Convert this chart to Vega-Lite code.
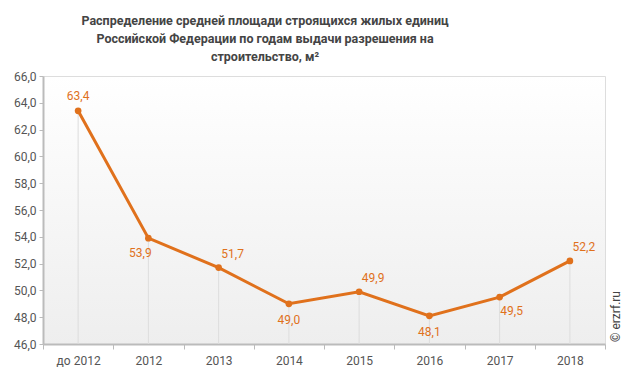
{
  "$schema": "https://vega.github.io/schema/vega-lite/v6.json",
  "width": 562,
  "height": 268,
  "autosize": {"type": "none"},
  "padding": {"left": 43, "top": 76, "right": 25, "bottom": 38},
  "background": "#ffffff",
  "title": {
    "text": ["Распределение средней площади строящихся  жилых единиц", "Российской  Федерации по годам выдачи разрешения на", "строительство,  м²"],
    "fontSize": 12.5,
    "fontWeight": "bold",
    "font": "Roboto",
    "color": "#444444",
    "anchor": "middle",
    "dx": -59,
    "lineHeight": 18,
    "offset": 7
  },
  "data": {
    "values": [
      {"year": "до 2012", "value": 63.4},
      {"year": "2012", "value": 53.9},
      {"year": "2013", "value": 51.7},
      {"year": "2014", "value": 49.0},
      {"year": "2015", "value": 49.9},
      {"year": "2016", "value": 48.1},
      {"year": "2017", "value": 49.5},
      {"year": "2018", "value": 52.2}
    ]
  },
  "encoding": {
    "x": {
      "field": "year",
      "type": "ordinal",
      "sort": null,
      "scale": {"paddingInner": 0, "paddingOuter": 0},
      "axis": {
        "title": null,
        "labelAngle": 0,
        "labelFont": "Roboto",
        "labelFontSize": 12,
        "labelColor": "#555555",
        "labelPadding": 6,
        "domainColor": "#bbbbbb",
        "domainWidth": 2,
        "tickColor": "#bbbbbb",
        "tickBand": "extent",
        "tickSize": 5,
        "grid": false
      }
    }
  },
  "layer": [
    {
      "mark": {"type": "rule", "color": "#dddddd", "strokeWidth": 1},
      "encoding": {
        "y": {
          "field": "value",
          "type": "quantitative",
          "scale": {"domain": [46, 66], "nice": false, "zero": false},
          "axis": {
            "title": null,
            "values": [46, 48, 50, 52, 54, 56, 58, 60, 62, 64, 66],
            "format": ".1f",
            "labelFont": "Roboto",
            "labelFontSize": 12,
            "labelColor": "#555555",
            "labelPadding": 3,
            "domainColor": "#bbbbbb",
            "domainWidth": 2,
            "tickColor": "#bbbbbb",
            "tickSize": 4,
            "grid": false
          }
        },
        "y2": {"datum": 46}
      }
    },
    {
      "mark": {"type": "line", "color": "#e0711c", "strokeWidth": 3, "point": {"filled": true, "size": 45, "color": "#e0711c"}},
      "encoding": {
        "y": {
          "field": "value",
          "type": "quantitative",
          "axis": {
            "orient": "right",
            "title": "© erzrf.ru",
            "titleFont": "Roboto",
            "titleFontSize": 12,
            "titleFontWeight": "normal",
            "titleColor": "#444444",
            "titleAngle": 270,
            "titleY": 240,
            "titleAlign": "center",
            "titleBaseline": "bottom",
            "titlePadding": 17,
            "labels": false,
            "ticks": false,
            "domain": false,
            "grid": false
          }
        }
      }
    },
    {
      "transform": [{"filter": {"field": "year", "oneOf": ["до 2012"]}}],
      "mark": {"type": "text", "color": "#e0711c", "font": "Roboto", "fontSize": 12, "dy": -15},
      "encoding": {
        "y": {"field": "value", "type": "quantitative", "axis": null},
        "text": {"field": "value", "type": "quantitative", "format": ".1f"}
      }
    },
    {
      "transform": [{"filter": {"field": "year", "oneOf": ["2013", "2015", "2018"]}}],
      "mark": {"type": "text", "color": "#e0711c", "font": "Roboto", "fontSize": 12, "dy": -14, "dx": 14},
      "encoding": {
        "y": {"field": "value", "type": "quantitative", "axis": null},
        "text": {"field": "value", "type": "quantitative", "format": ".1f"}
      }
    },
    {
      "transform": [{"filter": {"field": "year", "oneOf": ["2012"]}}],
      "mark": {"type": "text", "color": "#e0711c", "font": "Roboto", "fontSize": 12, "dy": 15, "dx": -8},
      "encoding": {
        "y": {"field": "value", "type": "quantitative", "axis": null},
        "text": {"field": "value", "type": "quantitative", "format": ".1f"}
      }
    },
    {
      "transform": [{"filter": {"field": "year", "oneOf": ["2014", "2016"]}}],
      "mark": {"type": "text", "color": "#e0711c", "font": "Roboto", "fontSize": 12, "dy": 16},
      "encoding": {
        "y": {"field": "value", "type": "quantitative", "axis": null},
        "text": {"field": "value", "type": "quantitative", "format": ".1f"}
      }
    },
    {
      "transform": [{"filter": {"field": "year", "oneOf": ["2017"]}}],
      "mark": {"type": "text", "color": "#e0711c", "font": "Roboto", "fontSize": 12, "dy": 14, "dx": 12},
      "encoding": {
        "y": {"field": "value", "type": "quantitative", "axis": null},
        "text": {"field": "value", "type": "quantitative", "format": ".1f"}
      }
    }
  ],
  "resolve": {"axis": {"y": "independent"}},
  "config": {
    "locale": {"number": {"decimal": ",", "thousands": " ", "grouping": [3], "currency": ["", ""]}},
    "view": {
      "stroke": "#dddddd",
      "fill": {"gradient": "linear", "x1": 0, "y1": 0, "x2": 0, "y2": 1, "stops": [{"offset": 0, "color": "#ffffff"}, {"offset": 1, "color": "#eeeeee"}]}
    }
  }
}
